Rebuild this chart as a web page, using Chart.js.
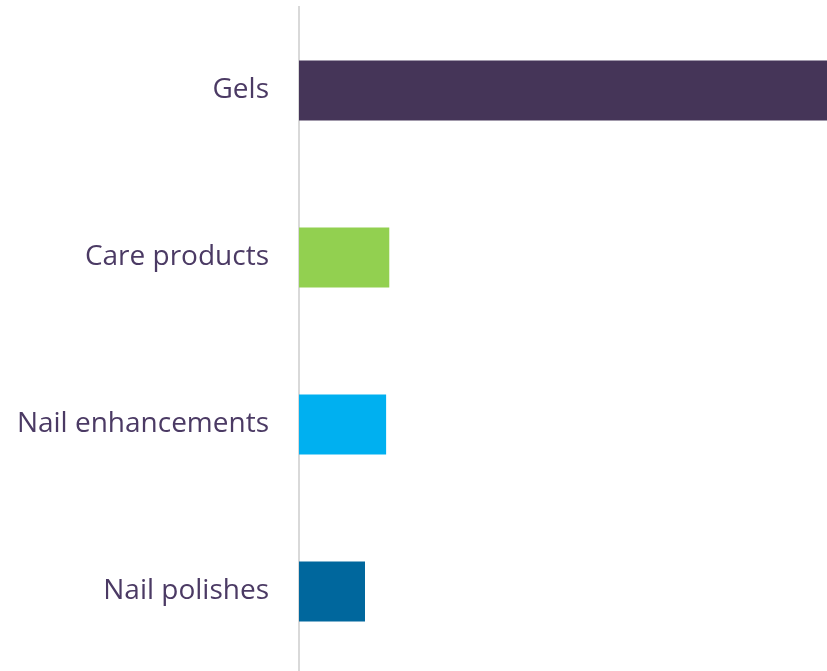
<!DOCTYPE html>
<html>
<head>
<meta charset="utf-8">
<script src="https://cdn.jsdelivr.net/npm/chart.js@4"></script>
<style>
  html, body { margin: 0; padding: 0; background: #fff; overflow: hidden; }
  #wrap { width: 827px; height: 675px; }
</style>
</head>
<body>
<div id="wrap"><canvas id="nailChart"></canvas></div>
<script>
// Categories and values (share, scaled so Gels fills the axis)
const categories = ['Gels', 'Care products', 'Nail enhancements', 'Nail polishes'];
const values = [100, 17.1, 16.5, 12.5];
const barColors = ['#453558', '#92d050', '#00b0f0', '#00679d'];

const ctx = document.getElementById('nailChart').getContext('2d');

new Chart(ctx, {
    type: 'bar',
    data: {
        labels: categories,
        datasets: [{
            data: values,
            backgroundColor: barColors,
            borderWidth: 0,
            categoryPercentage: 0.36,
            barPercentage: 1.0,
        }]
    },
    options: {
        indexAxis: 'y',
        responsive: true,
        maintainAspectRatio: false,
        animation: false,
        layout: { padding: { top: 7, right: 0, bottom: 0, left: 0 } },
        plugins: {
            legend: { display: false },
            tooltip: { enabled: false }
        },
        scales: {
            x: {
                display: false,
                min: 0,
                max: 100,
            },
            y: {
                grid: { display: false, drawTicks: false },
                border: { display: true, color: '#d9d9d9', width: 2 },
                ticks: {
                    color: '#4b3a64',
                    padding: 30,
                    font: { family: 'Open Sans', size: 28 }
                },
                afterFit: (axis) => {
                    axis.width = 299;
                    axis.paddingTop = 0;
                    axis.paddingBottom = 0;
                }
            }
        }
    }
});
</script>
</body>
</html>
